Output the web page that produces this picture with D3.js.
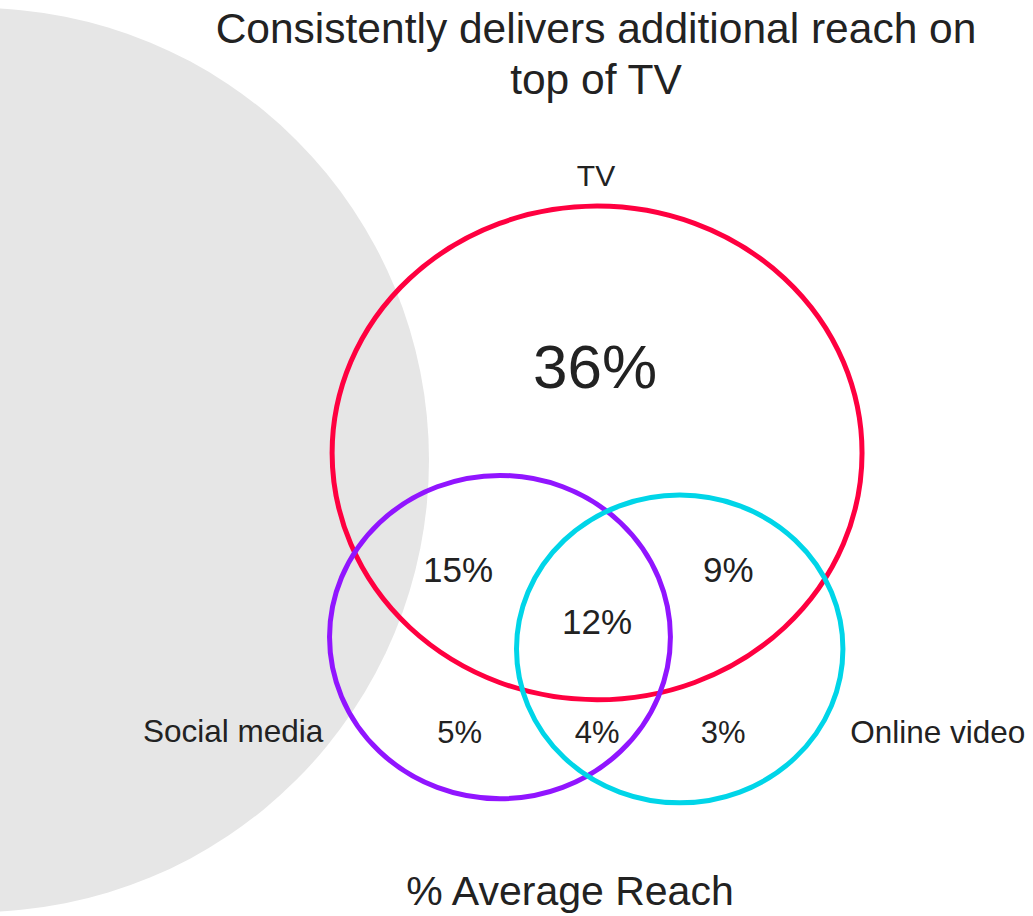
<!DOCTYPE html>
<html>
<head>
<meta charset="utf-8">
<script src="https://cdn.jsdelivr.net/npm/d3@7"></script>
<style>
  html, body { margin: 0; padding: 0; background: #ffffff; }
  svg { display: block; }
  text { font-family: "Liberation Sans", Arial, sans-serif; fill: #222222; }
</style>
</head>
<body>
<svg id="chart" width="1033" height="916"></svg>
<script>
// Title lines and caption
const titleLines = ["Consistently delivers additional reach on", "top of TV"];
const caption = "% Average Reach";

// The three media sets
const setNames = ["TV", "Social media", "Online video"];
const setColors = ["#ff0040", "#9115ff", "#00d5e8"];

// Share of average reach for each region of the diagram
const regionNames = ["TV only", "TV + Social", "TV + Video", "All three", "Social only", "Social + Video", "Video only"];
const regionValues = [36, 15, 9, 12, 5, 4, 3];

const svg = d3.select("#chart");
const W = 1033, H = 916;

// Layout space: x and y in diagram units, mapped to pixels
const x = d3.scaleLinear().domain([0, 100]).range([0, W]);
const y = d3.scaleLinear().domain([0, 100]).range([0, H]);

// Backdrop disc on the left
svg.append("circle")
  .attr("cx", -23).attr("cy", 460).attr("r", 452)
  .attr("fill", "#e6e6e6");

// Ellipse geometry for each set (diagram units)
const ellipses = [
  { cx: 57.8, cy: 49.45, rx: 25.65, ry: 26.95 },
  { cx: 48.4, cy: 69.55, rx: 16.5, ry: 17.65 },
  { cx: 65.8, cy: 70.85, rx: 15.8, ry: 16.8 }
];

svg.selectAll("ellipse.set")
  .data(setNames)
  .join("ellipse")
  .attr("class", "set")
  .attr("cx", (d, i) => x(ellipses[i].cx))
  .attr("cy", (d, i) => y(ellipses[i].cy))
  .attr("rx", (d, i) => x(ellipses[i].rx))
  .attr("ry", (d, i) => y(ellipses[i].ry))
  .attr("fill", "none")
  .attr("stroke", (d, i) => setColors[i])
  .attr("stroke-width", 5);

// Region label anchors (diagram units, alphabetic baseline) and font sizes
const regionPos = [
  { x: 57.6, y: 42.35, size: 62 },
  { x: 44.35, y: 63.55, size: 35 },
  { x: 70.5, y: 63.55, size: 35 },
  { x: 57.8, y: 69.2, size: 35 },
  { x: 44.5, y: 81.1, size: 31 },
  { x: 57.8, y: 81.1, size: 31 },
  { x: 70.0, y: 81.1, size: 31 }
];

const fmt = d => d3.format("d")(d) + "%";

svg.selectAll("text.region")
  .data(regionValues)
  .join("text")
  .attr("class", "region")
  .attr("x", (d, i) => x(regionPos[i].x))
  .attr("y", (d, i) => y(regionPos[i].y))
  .attr("text-anchor", "middle")
  .attr("font-size", (d, i) => regionPos[i].size)
  .text(fmt);

// Set names
const namePos = [
  { x: 57.7, y: 20.3, anchor: "middle" },
  { x: 31.3, y: 81.0, anchor: "end" },
  { x: 82.3, y: 81.1, anchor: "start" }
];
svg.selectAll("text.setname")
  .data(setNames)
  .join("text")
  .attr("class", "setname")
  .attr("x", (d, i) => x(namePos[i].x))
  .attr("y", (d, i) => y(namePos[i].y))
  .attr("text-anchor", (d, i) => namePos[i].anchor)
  .attr("font-size", (d, i) => i === 0 ? 30 : 31.5)
  .text(d => d);

// Title
svg.selectAll("text.title")
  .data(titleLines)
  .join("text")
  .attr("class", "title")
  .attr("x", 596)
  .attr("y", (d, i) => 43 + i * 51)
  .attr("text-anchor", "middle")
  .attr("font-size", 42.5)
  .text(d => d);

// Caption
svg.append("text")
  .attr("x", 570)
  .attr("y", 905)
  .attr("text-anchor", "middle")
  .attr("font-size", 41)
  .text(caption);
</script>
</body>
</html>
